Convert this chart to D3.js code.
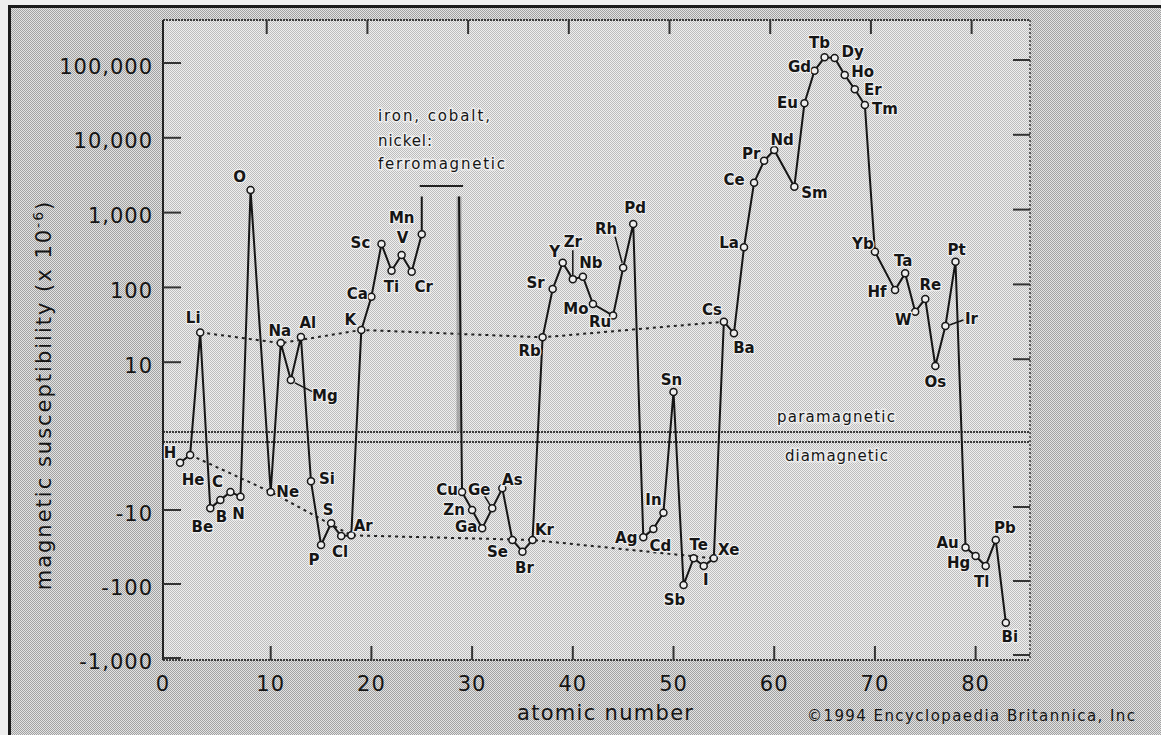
<!DOCTYPE html>
<html><head><meta charset="utf-8">
<script src="https://cdnjs.cloudflare.com/ajax/libs/d3/7.8.5/d3.min.js"></script>
<style>html,body{margin:0;padding:0;background:#eeeeee;} svg{display:block}</style>
</head><body><svg id="c" width="1161" height="735"></svg>
<script>
// ---------------- data ----------------
const symbols = ["H","He","Li","Be","B","C","N","O","Ne","Na","Mg","Al","Si","P","S","Cl","Ar","K","Ca","Sc","Ti","V","Cr","Mn",
  "Cu","Zn","Ga","Ge","As","Se","Br","Kr","Rb","Sr","Y","Zr","Nb","Mo","Ru","Rh","Pd","Ag","Cd","In","Sn","Sb","Te","I","Xe",
  "Cs","Ba","La","Ce","Pr","Nd","Sm","Eu","Gd","Tb","Dy","Ho","Er","Tm","Yb","Hf","Ta","W","Re","Os","Ir","Pt","Au","Hg","Tl","Pb","Bi"];
const atomicNumbers = [1,2,3,4,5,6,7,8,10,11,12,13,14,15,16,17,18,19,20,21,22,23,24,25,
  29,30,31,32,33,34,35,36,37,38,39,40,41,42,44,45,46,47,48,49,50,51,52,53,54,
  55,56,57,58,59,60,62,63,64,65,66,67,68,69,70,72,73,74,75,76,77,78,79,80,81,82,83];
const susceptibility = [-2.3,-1.8,25,-9.5,-7.3,-5.7,-6.6,2000,-5.7,18,5.8,21.7,-4.1,-29.7,-15.1,-22.5,-22,27,75,380,167,271,162,513,
  -5.7,-10,-17.7,-9.5,-5.1,-25.4,-36.6,-25.4,21.5,95,214,129,139,60,42,183,704,-23.4,-18,-10.9,4.0,-103,-44.9,-57,-45,
  34.8,24.3,344,2510,4940,6870,2220,28900,78900,119000,117000,69100,44500,27500,300,92,154,47.3,70,8.9,30.5,221,-32,-41.8,-57,-25.4,-333];

// ferromagnetic iron, cobalt, nickel (off-scale) region
const ferroSpan = [25, 28.7];      // atomic-number span of the off-scale verticals
const ferroCap = 1640;             // value where the verticals end
const ferroBracket = [24.8, 29.1]; // bracket span
const ferroBracketValue = 2270;

const alkaliSymbols = ["Li","Na","K","Rb","Cs"];
const nobleSymbols = ["He","Ne","Ar","Kr","Xe"];

const xTicks = [0,10,20,30,40,50,60,70,80];
const yTicksPos = [10,100,1000,10000,100000];
const yTicksNeg = [-10,-100,-1000];

// ---------------- layout ----------------
const labelOffsets = {
 H:[-10,-10], He:[3,25], Li:[-7,-14], Be:[-8,19], B:[1,17], C:[-13,-10], N:[-2,17], O:[-11,-13], Ne:[17,0], Na:[-1,-12],
 Mg:[34,16], Al:[7,-14], Si:[16,-2], P:[-7,15], S:[-3,-13], Cl:[-1,16], Ar:[12,-9], K:[-11,-10], Ca:[-14,-3], Sc:[-21,-1],
 Ti:[0,16], V:[1,-17], Cr:[12,15], Mn:[-20,-16], Cu:[-15,-2], Zn:[-18,0], Ga:[-16,-1], Ge:[-13,-18], As:[10,-8], Se:[-15,12],
 Br:[2,16], Kr:[12,-10], Rb:[-13,14], Sr:[-17,-6], Y:[-8,-11], Zr:[0,-37], Nb:[8,-14], Mo:[-17,5], Ru:[-13,6], Rh:[-17,-39],
 Pd:[2,-16], Ag:[-17,1], Cd:[7,17], In:[-10,-13], Sn:[-2,-12], Sb:[-9,15], Te:[5,-13], I:[2,14], Xe:[15,-8], Cs:[-12,-12],
 Ba:[10,15], La:[-15,-4], Ce:[-20,-3], Pr:[-13,-7], Nd:[8,-10], Sm:[20,6], Eu:[-17,0], Gd:[-15,-4], Tb:[-5,-14], Dy:[18,-6],
 Ho:[18,-3], Er:[18,1], Tm:[20,4], Yb:[-12,-8], Hf:[-18,2], Ta:[-2,-12], W:[-12,8], Re:[5,-14], Os:[0,16], Ir:[26,-7],
 Pt:[1,-12], Au:[-18,-4], Hg:[-17,7], Tl:[-4,16], Pb:[9,-12], Bi:[4,14]
};
const leaders = {Mg:[4,3,22,12], Zr:[0,-29,0,-4], Rh:[-8,-31,-1,-5], Ge:[-8,-13,-2,-3], Ir:[4,-1,18,-6]};

const W = 1161, H = 735;
const plot = {left:163, right:1030, top:20, midTop:432, midBot:442, bottom:660};
const ink = "#151515";

const svg = d3.select("#c");
const defs = svg.append("defs");
function checker(id, a, b){
  const p = defs.append("pattern").attr("id", id).attr("width", 2).attr("height", 2).attr("patternUnits", "userSpaceOnUse");
  p.append("rect").attr("width", 2).attr("height", 2).attr("fill", b);
  p.append("rect").attr("width", 1).attr("height", 1).attr("fill", a);
  p.append("rect").attr("x", 1).attr("y", 1).attr("width", 1).attr("height", 1).attr("fill", a);
}
checker("outer", "#a2a2a2", "#e2e2e2");
checker("inner", "#bdbdbd", "#efefef");

svg.append("rect").attr("width", W).attr("height", H).attr("fill", "#eeeeee");
svg.append("rect").attr("x", 8).attr("y", 5).attr("width", W - 8).attr("height", H - 5).attr("fill", "url(#outer)");
svg.append("path").attr("d", `M9.5,${H} V6.5 H${W}`).attr("fill", "none").attr("stroke", "#1a1a1a").attr("stroke-width", 3);

// plot panels
svg.append("rect").attr("x", plot.left).attr("y", plot.top).attr("width", plot.right - plot.left)
  .attr("height", plot.bottom - plot.top).attr("fill", "url(#inner)");

// scales
const x = d3.scaleLinear().domain([0, 85.4]).range([170, 1030]);
const yPos = d3.scaleLog().domain([1, 1e5]).range([437, 63]);
const yNeg = d3.scaleLog().domain([1, 1000]).range([436, 658]);
const y = v => v > 0 ? yPos(v) : yNeg(-v);

// panel borders
const border = svg.append("g").attr("stroke", "#3a3a3a").attr("fill", "none");
[plot.top, plot.midTop, plot.midBot, plot.bottom].forEach(yy => {
  border.append("line").attr("x1", plot.left).attr("x2", plot.right).attr("y1", yy).attr("y2", yy)
    .attr("stroke-width", 2).attr("stroke-dasharray", "2,1");
});
border.append("line").attr("x1", plot.right).attr("x2", plot.right).attr("y1", plot.top).attr("y2", plot.bottom).attr("stroke-width", 1.5).attr("stroke-dasharray", "2,2");
border.append("line").attr("x1", plot.left).attr("x2", plot.left).attr("y1", plot.top).attr("y2", plot.bottom).attr("stroke-width", 2).attr("stroke", "#222");

// ticks
const tickG = svg.append("g").attr("stroke", "#333").attr("stroke-width", 2);
const yTickAll = yTicksPos.concat(yTicksNeg);
yTickAll.forEach(v => {
  tickG.append("line").attr("x1", plot.left).attr("x2", plot.left + 18).attr("y1", y(v)).attr("y2", y(v));
  tickG.append("line").attr("x1", plot.right - 17).attr("x2", plot.right).attr("y1", y(v) - 3).attr("y2", y(v) - 3);
});
xTicks.forEach(t => {
  if (t === 0) return;
  tickG.append("line").attr("x1", x(t)).attr("x2", x(t)).attr("y1", plot.bottom).attr("y2", plot.bottom - 14);
  tickG.append("line").attr("x1", x(t) - 4).attr("x2", x(t) - 4).attr("y1", plot.top).attr("y2", plot.top + 14);
});

const fmt = v => (v < 0 ? "-" : "") + d3.format(",")(Math.abs(v));
const tickFont = "'DejaVu Sans', Verdana, sans-serif";
svg.append("g").selectAll("text").data(yTickAll).join("text")
  .attr("x", 153).attr("y", v => y(v) + 3).attr("dy", "0.36em")
  .attr("text-anchor", "end").attr("font-family", tickFont).attr("font-size", 21)
  .attr("letter-spacing", 1).attr("fill", ink).text(fmt);
svg.append("g").selectAll("text").data(xTicks).join("text")
  .attr("x", t => t === 0 ? plot.left : x(t)).attr("y", 691)
  .attr("text-anchor", "middle").attr("font-family", tickFont).attr("font-size", 21)
  .attr("letter-spacing", 1).attr("fill", ink).text(d => d);

// axis titles
svg.append("text").attr("x", 605).attr("y", 720).attr("text-anchor", "middle")
  .attr("font-family", tickFont).attr("font-size", 21).attr("textLength", 176).attr("lengthAdjust", "spacing")
  .attr("fill", ink).text("atomic number");
const yl = svg.append("text").attr("transform", "translate(51,395) rotate(-90)").attr("text-anchor", "middle")
  .attr("font-family", tickFont).attr("font-size", 21).attr("letter-spacing", 2).attr("fill", ink);
yl.append("tspan").text("magnetic susceptibility (x 10");
yl.append("tspan").attr("font-size", 14).attr("dy", -8).text("-6");
yl.append("tspan").attr("dy", 8).text(")");
svg.append("text").attr("x", 807).attr("y", 721).attr("font-family", tickFont).attr("font-size", 15)
  .attr("textLength", 328).attr("lengthAdjust", "spacing").attr("fill", ink).text("©1994 Encyclopaedia Britannica, Inc");

// annotations
const annFont = "'DejaVu Sans', Verdana, sans-serif";
function ann(txt, x0, yb, len){
  svg.append("text").attr("x", x0).attr("y", yb).attr("font-family", annFont).attr("font-size", 15)
    .attr("textLength", len).attr("lengthAdjust", "spacing").attr("fill", ink)
    .attr("stroke", "#ededed").attr("stroke-width", 3).attr("paint-order", "stroke").text(txt);
}
ann("iron, cobalt,", 378, 121, 112);
ann("nickel:", 378, 146, 54);
ann("ferromagnetic", 378, 169, 127);
ann("paramagnetic", 777, 422, 118);
ann("diamagnetic", 785, 461, 103);

// data records
const data = symbols.map((s, i) => ({s, z: atomicNumbers[i], v: susceptibility[i]}));
const bySym = Object.fromEntries(data.map(d => [d.s, d]));

// dotted reference lines
const dotted = d3.line().x(d => x(d.z)).y(d => y(d.v));
[alkaliSymbols, nobleSymbols].forEach(list => {
  svg.append("path").attr("d", dotted(list.map(s => bySym[s]))).attr("fill", "none")
    .attr("stroke", "#222").attr("stroke-width", 2).attr("stroke-dasharray", "3,4");
});

// main line with ferromagnetic break
const series = [];
data.forEach(d => {
  series.push(d);
  if (d.s === "Mn") {
    series.push({z: ferroSpan[0], v: ferroCap});
    series.push(null);
    series.push({z: ferroSpan[1], v: ferroCap});
  }
});
const line = d3.line().defined(d => d !== null).x(d => x(d.z)).y(d => y(d.v));
svg.append("line").attr("x1", x(ferroSpan[1])).attr("x2", x(ferroSpan[1])).attr("y1", y(ferroCap)).attr("y2", plot.midTop)
  .attr("stroke", "#8a8a8a").attr("stroke-width", 5).attr("opacity", 0.6);
svg.append("path").attr("d", line(series)).attr("fill", "none").attr("stroke", ink)
  .attr("stroke-width", 2).attr("stroke-linejoin", "round");

// bracket
svg.append("line").attr("x1", x(ferroBracket[0])).attr("x2", x(ferroBracket[1]))
  .attr("y1", y(ferroBracketValue)).attr("y2", y(ferroBracketValue)).attr("stroke", "#222").attr("stroke-width", 2);

// leaders
Object.entries(leaders).forEach(([s, o]) => {
  const d = bySym[s];
  svg.append("line").attr("x1", x(d.z) + o[0]).attr("y1", y(d.v) + o[1]).attr("x2", x(d.z) + o[2]).attr("y2", y(d.v) + o[3])
    .attr("stroke", ink).attr("stroke-width", 1.5);
});

// points
svg.append("g").selectAll("circle").data(data).join("circle")
  .attr("cx", d => x(d.z)).attr("cy", d => y(d.v)).attr("r", 3.5)
  .attr("fill", "#eeeeee").attr("stroke", ink).attr("stroke-width", 1.5);

// element labels
svg.append("g").selectAll("text").data(data).join("text")
  .attr("x", d => x(d.z) + labelOffsets[d.s][0]).attr("y", d => y(d.v) + labelOffsets[d.s][1])
  .attr("text-anchor", "middle").attr("dominant-baseline", "central")
  .attr("font-family", "'DejaVu Sans', Verdana, sans-serif").attr("font-size", 15).attr("font-weight", "bold")
  .attr("fill", ink).attr("stroke", "#ededed").attr("stroke-width", 2.5).attr("paint-order", "stroke")
  .text(d => d.s);
</script>
</body></html>
